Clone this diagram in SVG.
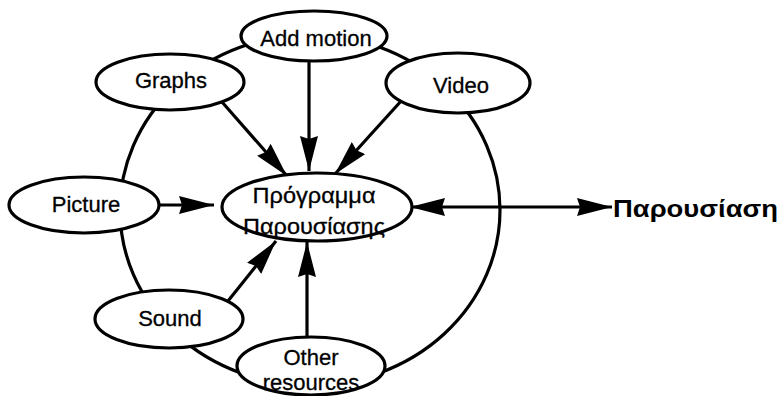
<svg xmlns="http://www.w3.org/2000/svg" width="780" height="396" viewBox="0 0 780 396">
<style>
.n{fill:#fff;stroke:#000;stroke-width:3.2}
.t{font-family:"Liberation Sans",Arial,sans-serif;font-size:22px;text-anchor:middle;fill:#000;stroke:#000;stroke-width:0.3}
.c{fill:none;stroke:#000;stroke-width:3.2}
</style>
<defs>
<marker id="ah" markerUnits="userSpaceOnUse" markerWidth="38" markerHeight="20" refX="35" refY="9" orient="auto-start-reverse">
<path d="M0,0 L35,9 L0,18 L3,9 z" fill="#000"/>
</marker>
</defs>
<rect width="780" height="396" fill="#fff"/>
<g id="connectors">
<ellipse class="c" cx="310" cy="210" rx="190" ry="175"/>
<line class="c" x1="222" y1="102" x2="287" y2="176" marker-end="url(#ah)"/>
<line class="c" x1="309" y1="60" x2="309" y2="171" marker-end="url(#ah)"/>
<line class="c" x1="402" y1="100" x2="335" y2="174" marker-end="url(#ah)"/>
<line class="c" x1="158" y1="205" x2="214" y2="205" marker-end="url(#ah)"/>
<line class="c" x1="228" y1="301" x2="276" y2="241" marker-end="url(#ah)"/>
<line class="c" x1="307" y1="338" x2="307" y2="242" marker-end="url(#ah)"/>
<line class="c" x1="410" y1="207" x2="612" y2="207" marker-start="url(#ah)" marker-end="url(#ah)"/>
</g>
<g id="addmotion"><ellipse class="n" cx="314" cy="36" rx="73" ry="25"/><text class="t" x="316" y="46">Add motion</text></g>
<g id="graphs"><ellipse class="n" cx="170" cy="82" rx="74" ry="28"/><text class="t" x="171" y="88">Graphs</text></g>
<g id="video"><ellipse class="n" cx="458" cy="83" rx="72" ry="30"/><text class="t" x="461" y="93">Video</text></g>
<g id="picture"><ellipse class="n" cx="84" cy="205" rx="75" ry="28"/><text class="t" x="86" y="212">Picture</text></g>
<g id="program"><ellipse class="n" cx="317" cy="207" rx="95" ry="34"/><text class="t" x="314" y="203" textLength="123" lengthAdjust="spacingAndGlyphs">Πρόγραμμα</text><text class="t" x="314" y="234" textLength="142" lengthAdjust="spacingAndGlyphs">Παρουσίασης</text></g>
<g id="sound"><ellipse class="n" cx="169" cy="319" rx="74" ry="29"/><text class="t" x="170" y="326">Sound</text></g>
<g id="other"><ellipse class="n" cx="311" cy="366" rx="74" ry="29"/><text class="t" x="311" y="365">Other</text><text class="t" x="311" y="390">resources</text></g>
<g id="presentation"><text x="613" y="217" font-family="'Liberation Sans',Arial,sans-serif" font-size="24" font-weight="bold" textLength="165" lengthAdjust="spacingAndGlyphs">Παρουσίαση</text></g>
</svg>
